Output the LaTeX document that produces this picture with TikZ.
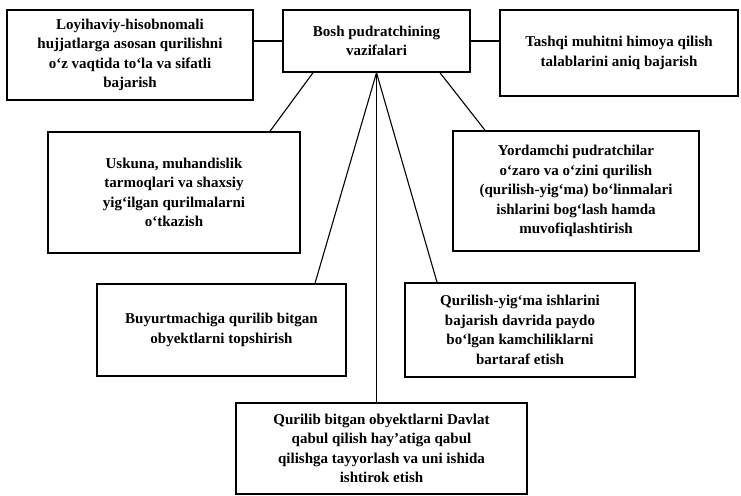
\documentclass[tikz,border=0pt]{standalone}
\usepackage{fontspec}
\setmainfont{Liberation Serif}

\begin{document}
\begin{tikzpicture}[
  x=1pt, y=-1pt,
  box/.style={draw, line width=1.5pt, align=center, inner sep=2pt,
              font=\fontsize{15}{19.5}\selectfont\bfseries},
  link/.style={line width=1.1pt}
]
  \useasboundingbox (0,0) rectangle (741,495);
  \node[box, minimum width=187pt, minimum height=62pt] (head) at (376.5,41) {Bosh pudratchining\\vazifalari};
  \node[box, minimum width=246pt, minimum height=90pt] (design) at (130,55) {Loyihaviy-hisobnomali\\hujjatlarga asosan qurilishni\\o`z vaqtida to`la va sifatli\\bajarish};
  \node[box, minimum width=238pt, minimum height=86pt] (nature) at (619,53) {Tashqi muhitni himoya qilish\\talablarini aniq bajarish};
  \node[box, minimum width=252pt, minimum height=121pt] (equip) at (174,192.5) {Uskuna, muhandislik\\tarmoqlari va shaxsiy\\yig`ilgan qurilmalarni\\o`tkazish};
  \node[box, minimum width=246pt, minimum height=120pt] (subs) at (576,191) {Yordamchi pudratchilar\\o`zaro va o`zini qurilish\\(qurilish-yig`ma) bo`linmalari\\ishlarini bog`lash hamda\\muvofiqlashtirish};
  \node[box, minimum width=249pt, minimum height=92pt] (handover) at (221.5,330) {Buyurtmachiga qurilib bitgan\\obyektlarni topshirish};
  \node[box, minimum width=230pt, minimum height=94pt] (defects) at (520,330) {Qurilish-yig`ma ishlarini\\bajarish davrida paydo\\bo`lgan kamchiliklarni\\bartaraf etish};
  \node[box, minimum width=291pt, minimum height=91pt] (state) at (381.5,448.5) {Qurilib bitgan obyektlarni Davlat\\qabul qilish hay'atiga qabul\\qilishga tayyorlash va uni ishida\\ishtirok etish};
  \draw[link] (head.west) -- (head.west -| design.east);
  \draw[link] (head.east) -- (head.east -| nature.west);
  \draw[link] ([xshift=-63.5pt]head.south) -- ([xshift=96pt]equip.north);
  \draw[link] ([xshift=63.5pt]head.south) -- ([xshift=-91pt]subs.north);
  \draw[link] (head.south) -- ([xshift=93.5pt]handover.north);
  \draw[link] (head.south) -- ([xshift=-83pt]defects.north);
  \draw[link] (head.south) -- (head.south |- state.north);
\end{tikzpicture}
\end{document}
